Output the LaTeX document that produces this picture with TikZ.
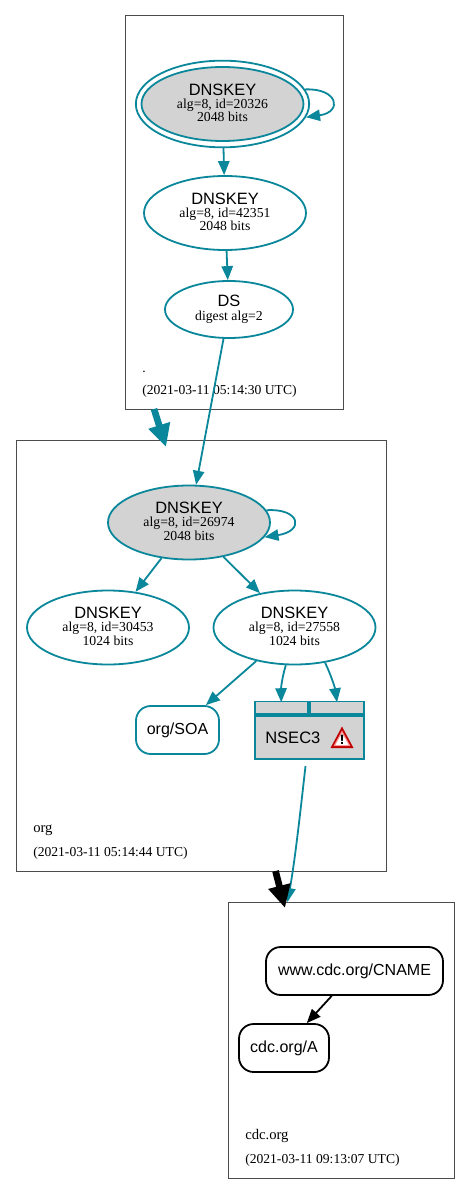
\documentclass[tikz,border=0pt]{standalone}
\usepackage{fontspec}
\setmainfont{Liberation Serif}
\newfontfamily\labelsans{Liberation Sans}
\usetikzlibrary{arrows.meta,shapes.geometric}
\definecolor{dnsteal}{HTML}{0A879A}
\definecolor{dnsgrey}{HTML}{D3D3D3}
\newcommand{\keyhead}{\labelsans\fontsize{12.3}{11}\selectfont}
\tikzset{
  zonebox/.style={rectangle, draw=black!70, line width=0.45pt, fill=white, inner sep=0pt},
  zonetext/.style={anchor=base west, inner sep=0pt, font=\fontsize{10.2}{12}\selectfont},
  keynode/.style={ellipse, draw=dnsteal, line width=1.35pt, inner sep=0pt, align=center,
    minimum width=121.5pt, minimum height=55.5pt, font=\fontsize{10.3}{9.9}\selectfont},
  sepnode/.style={keynode, fill=dnsgrey},
  rrnode/.style={rectangle, rounded corners=11pt, draw=dnsteal, line width=1.35pt, inner sep=0pt,
    minimum height=36pt, font=\labelsans\fontsize{12}{14}\selectfont},
  rrblack/.style={rrnode, draw=black},
  cell/.style={rectangle, fill=dnsgrey, inner sep=0pt},
  flow/.style={-{Triangle[length=10.5pt,width=8.5pt]}, line width=1.35pt, draw=dnsteal},
  flowblack/.style={flow, draw=black},
  deleg/.style={-{Triangle[length=17pt,width=16pt]}, line width=5pt, draw=dnsteal},
}
\begin{document}
\begin{tikzpicture}[x=0.75pt, y=-0.75pt]
  \useasboundingbox (0,0) rectangle (471,1194);
  \node[zonebox, minimum width=164pt, minimum height=295.5pt] (rootzone) at (234.4,212) {};
  \node[zonebox, minimum width=277.5pt, minimum height=323.25pt] (orgzone) at (201,655.5) {};
  \node[zonebox, minimum width=169.5pt, minimum height=207pt] (cdczone) at (341,1040) {};
  \node[zonetext] (rootname) at (142,372.5) {.};
  \node[zonetext] (rootdate) at (142,394.5) {(2021-03-11 05:14:30 UTC)};
  \node[zonetext, font=\fontsize{11}{12}\selectfont] (orgname) at (33,832.5) {org};
  \node[zonetext] (orgdate) at (33,856.5) {(2021-03-11 05:14:44 UTC)};
  \node[zonetext, font=\fontsize{11}{12}\selectfont] (cdcname) at (245,1139.5) {cdc.org};
  \node[zonetext] (cdcdate) at (245,1163.5) {(2021-03-11 09:13:07 UTC)};
  \node[keynode, minimum width=130pt, minimum height=65pt] (rootouter) at (222.5,104) {};
  \node[sepnode] (rootksk) at (222.5,104) {{\keyhead DNSKEY}\\alg=8, id=20326\\2048 bits\\[-8pt]};
  \node[keynode] (rootzsk) at (225,213) {{\keyhead DNSKEY}\\alg=8, id=42351\\2048 bits\\[-8pt]};
  \node[keynode, minimum width=96pt, minimum height=42.75pt] (rootds) at (229,309.5) {{\keyhead DS}\\[0.5pt]digest alg=2};
  \node[sepnode] (orgksk) at (189,522.5) {{\keyhead DNSKEY}\\alg=8, id=26974\\2048 bits\\[-8pt]};
  \node[keynode] (orgzska) at (108,627.5) {{\keyhead DNSKEY}\\alg=8, id=30453\\1024 bits\\[-8pt]};
  \node[keynode] (orgzskb) at (294.5,627.5) {{\keyhead DNSKEY}\\alg=8, id=27558\\1024 bits\\[-8pt]};
  \node[rrnode, minimum width=62.25pt] (orgsoa) at (177.5,730) {org/SOA};
  \node[rectangle, fill=dnsteal, inner sep=0pt, minimum width=83.6pt, minimum height=44.25pt] (nsec) at (309.25,730.5) {};
  \node[cell, minimum width=38.25pt, minimum height=7.9pt] (nsecl) at (281.25,707.75) {};
  \node[cell, minimum width=39pt, minimum height=7.9pt] (nsecr) at (337,707.75) {};
  \node[cell, minimum width=80pt, minimum height=30.5pt, label={[font=\labelsans\fontsize{12.4}{14}\selectfont, inner sep=0pt]center:\hspace{-25pt}NSEC3}] (nsecb) at (309.5,737.5) {};
  \fill[red!75!black] (342,726.5) -- (353.5,748) -- (330.5,748) -- cycle;
  \fill[red!45!white] (342,730.5) -- (350.5,746) -- (333.5,746) -- cycle;
  \fill[white] (342,733) -- (348.5,745) -- (335.5,745) -- cycle;
  \fill[black] (340.8,734.5) -- (343.2,734.5) -- (342.7,741) -- (341.3,741) -- cycle;
  \fill[black] (341.1,742) rectangle (342.9,744);
  \node[rrblack, minimum width=132.75pt] (cname) at (354.5,971) {www.cdc.org/CNAME};
  \node[rrblack, minimum width=67.5pt] (arec) at (284,1048) {cdc.org/A};
  \coordinate (rootlow) at (154,409);
  \coordinate (orgtop) at (166,447);
  \coordinate (orglow) at (275.5,871);
  \coordinate (cdctop) at (285,908);
  \coordinate (nsecout) at (305.5,766);
  \coordinate (cdcin) at (287.5,902);
  \draw[flow] (rootouter.10) .. controls (338,88) and (343,112) .. (rootouter.-9);
  \draw[flow] (rootouter) -- (rootzsk);
  \draw[flow] (rootzsk) -- (rootds);
  \draw[flow] (rootds) -- (orgksk);
  \draw[flow] (orgksk.9) .. controls (300,508) and (305,531) .. (orgksk.-11);
  \draw[flow] (orgksk) -- (orgzska);
  \draw[flow] (orgksk) -- (orgzskb);
  \draw[flow] (orgzskb) -- (orgsoa);
  \draw[flow] (orgzskb.-103) .. controls (282,678) and (281,688) .. (nsecl.north);
  \draw[flow] (orgzskb.-49) .. controls (331,675) and (335,688) .. (nsecr.north);
  \draw[flow] (nsecout) .. controls (300,815) and (295,860) .. (cdcin);
  \draw[flowblack] (cname) -- (arec);
  \draw[deleg] (rootlow) -- (orgtop);
  \draw[deleg, draw=black] (orglow) -- (cdctop);
\end{tikzpicture}
\end{document}
